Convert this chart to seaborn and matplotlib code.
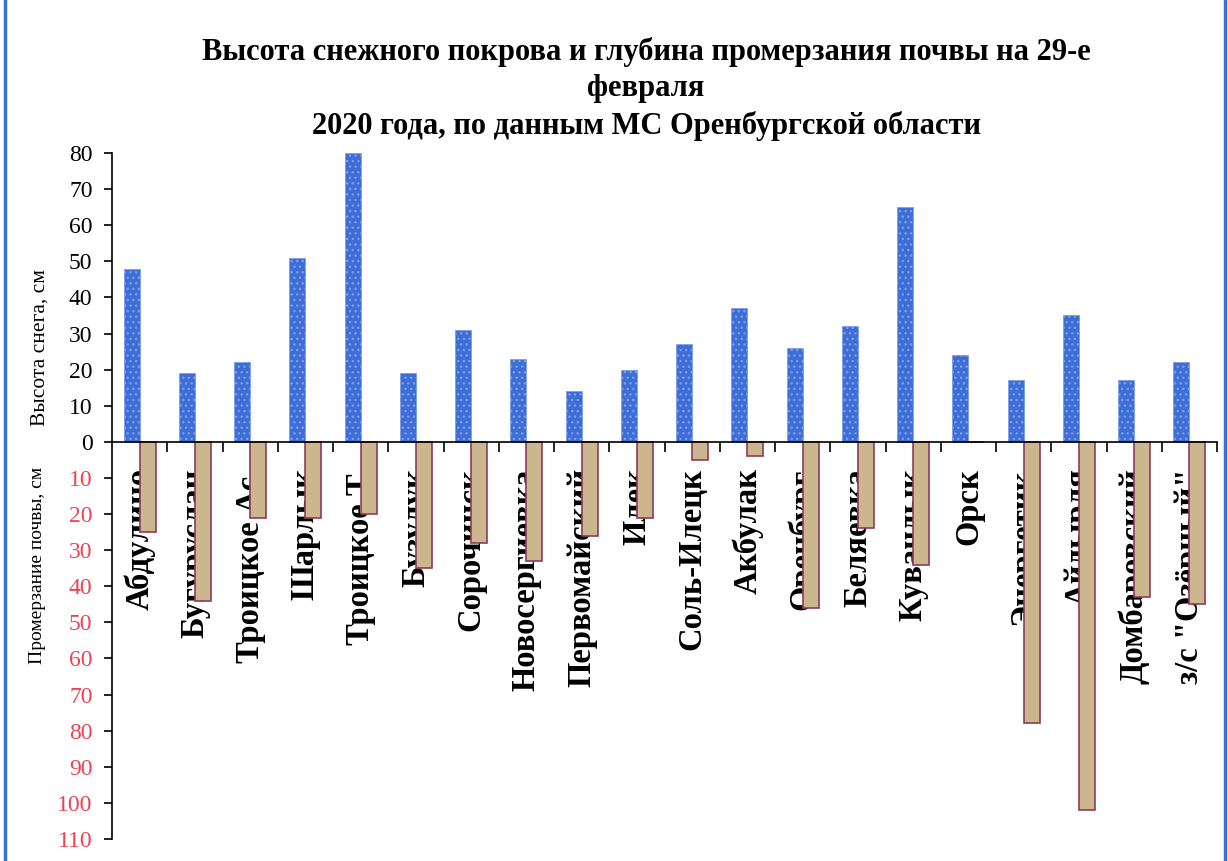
import numpy as np
import pandas as pd
import matplotlib.pyplot as plt
import seaborn as sns
from matplotlib.lines import Line2D
from matplotlib.ticker import FixedLocator

# data (cm)
stations = ['Абдулино', 'Бугуруслан', 'Троицкое Ас.', 'Шарлык', 'Троицкое Т.',
            'Бузулук', 'Сорочинск', 'Новосергиевка', 'Первомайский', 'Илек',
            'Соль-Илецк', 'Акбулак', 'Оренбург', 'Беляевка', 'Кувандык',
            'Орск', 'Энергетик', 'Айдырля', 'Домбаровский', 'з/с "Озёрный"']
snow_cm = [48, 19, 22, 51, 80, 19, 31, 23, 14, 20,
           27, 37, 26, 32, 65, 24, 17, 35, 17, 22]
frost_cm = [25, 44, 21, 21, 20, 35, 28, 33, 26, 21,
            5, 4, 46, 24, 34, 0, 78, 102, 43, 45]

title = ("Высота снежного покрова и глубина промерзания почвы на 29-е\n"
         "февраля\n"
         "2020 года, по данным МС Оренбургской области")
ylabel_snow = "Высота снега, см"
ylabel_frost = "Промерзание почвы, см"

sns.set_theme(style="ticks")
plt.rcParams['font.family'] = ['Liberation Serif', 'DejaVu Serif']
plt.rcParams['text.color'] = 'black'
plt.rcParams['xtick.color'] = 'black'
plt.rcParams['ytick.color'] = 'black'

n = len(stations)
df = pd.DataFrame({
    'station': stations * 2,
    'value': snow_cm + [-v for v in frost_cm],
    'series': ['snow'] * n + ['frost'] * n,
})

W, H = 1228, 861
fig = plt.figure(figsize=(W / 100, H / 100), dpi=100)
fig.patch.set_facecolor('white')
ax = fig.add_axes([112 / W, 1 - 839 / H, (1217 - 112) / W, (839 - 153) / H])

sns.barplot(data=df, x='station', y='value', hue='series',
            palette={'snow': '#3d6ed8', 'frost': '#ccb68e'},
            width=0.58, gap=0, saturation=1, legend=False, ax=ax)

for bar in ax.containers[0]:
    bar.set_edgecolor('#7d9ee6')
    bar.set_hatch('...')
    bar.set_linewidth(0.6)
for bar in ax.containers[1]:
    bar.set_edgecolor('#8c3c5c')
    bar.set_linewidth(1.2)

ax.set_xlim(-0.5, n - 0.5)
ax.set_ylim(-110, 80)
ax.set_xlabel('')
ax.set_ylabel('')

ax.spines['bottom'].set_position(('data', 0))
ax.spines[['top', 'right']].set_visible(False)
for s in ['left', 'bottom']:
    ax.spines[s].set_color('black')
    ax.spines[s].set_linewidth(1.2)

yt = np.arange(-110, 81, 10)
ax.set_yticks(yt)
ax.set_yticklabels([str(abs(t)) for t in yt], fontsize=17)
for t, lab in zip(yt, ax.get_yticklabels()):
    lab.set_color('#ec4256' if t < 0 else 'black')
ax.tick_params(axis='y', length=6, width=1.2, color='black', pad=8)

ax.set_xticks(range(n))
ax.set_xticklabels(stations, rotation=90, fontsize=23.5, fontweight='bold',
                   va='top', ha='center')
ax.tick_params(axis='x', which='major', length=0, pad=19)
ax.xaxis.set_minor_locator(FixedLocator(np.arange(0.5, n, 1)))
ax.tick_params(axis='x', which='minor', length=7, width=1.2,
               color='black', direction='out')

fig.text(646 / W, 1 - 89 / H, title, ha='center', va='center',
         fontsize=22, fontweight='bold', linespacing=1.33)
fig.text(40 / W, 1 - 347 / H, ylabel_snow, rotation=90,
         ha='center', va='center', fontsize=15.5)
fig.text(38 / W, 1 - 565 / H, ylabel_frost, rotation=90,
         ha='center', va='center', fontsize=14)

# blue frame on the left and right edges
for xf in (5 / W, 1225 / W):
    fig.add_artist(Line2D([xf, xf], [0, 1], transform=fig.transFigure,
                          color='#3a6fd8', lw=2.5))

fig.savefig('out.png', dpi=100)
